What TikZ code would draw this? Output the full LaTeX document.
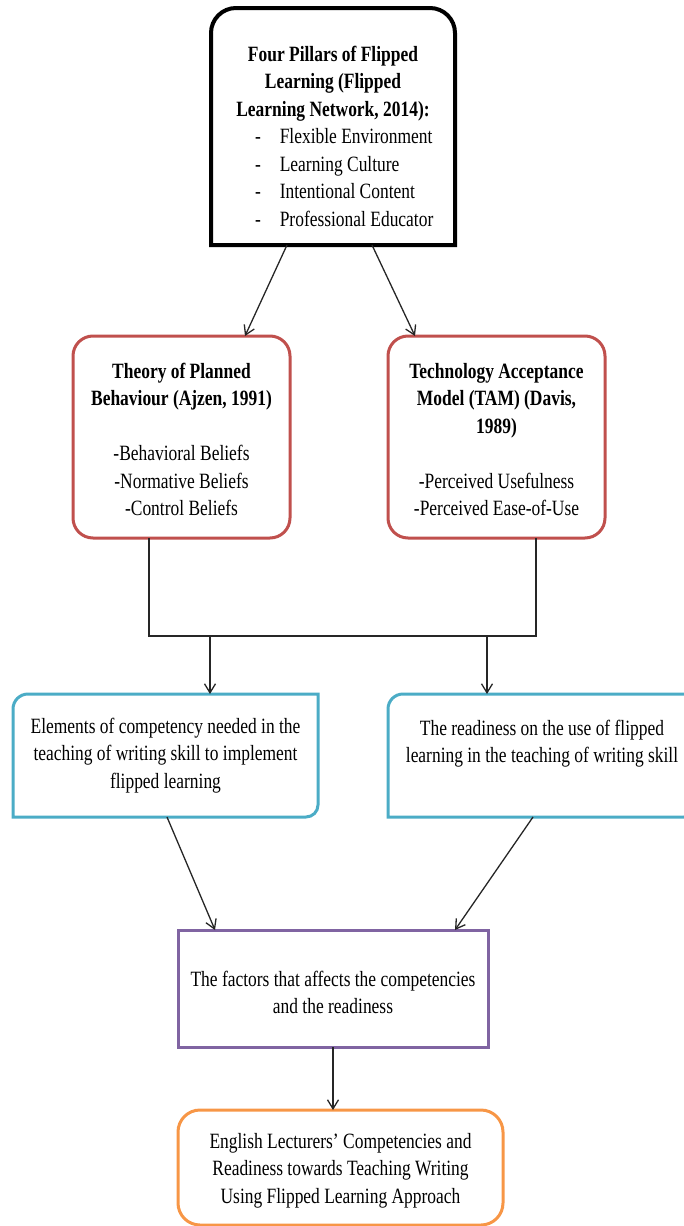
\documentclass[tikz,border=0pt]{standalone}
\usepackage{fontspec}
\setmainfont[FakeStretch=0.8]{Liberation Serif}
\usetikzlibrary{arrows.meta}
\definecolor{tpbRed}{HTML}{C0504D}
\definecolor{elemBlue}{HTML}{4BACC6}
\definecolor{factorPurple}{HTML}{8064A2}
\definecolor{outcomeOrange}{HTML}{F79646}
\begin{document}
\begin{tikzpicture}[x=1pt, y=1pt,
    boxFont/.style={font=\fontsize{21.8pt}{27.5pt}\selectfont, inner sep=0pt, outer sep=0pt},
    redBox/.style={boxFont, draw=tpbRed, line width=3pt, rounded corners=20pt},
    purpleBox/.style={boxFont, draw=factorPurple, line width=3pt},
    orangeBox/.style={boxFont, draw=outcomeOrange, line width=3pt, rounded corners=22pt},
    connLine/.style={line width=1.3pt, draw=black!85},
    flowArrow/.style={connLine, -{Straight Barb[length=9pt,width=11pt]}}]
    \useasboundingbox (0,0) rectangle (684,-1226);
    \newcommand{\boxText}[4]{%
        % text block inside a box
        % args:
        %     width
        %     height
        %     space above first line
        %     text
        \parbox[c][#2pt][t]{#1pt}{\centering\vspace*{#3pt}\strut#4}%
    }
    \newcommand{\pillarItem}[1]{\makebox[200pt][l]{\hspace{22pt}-\hspace{19pt}#1}}
    \newcommand{\roundDiagOutline}[2]{
        % outline with rounded top left and bottom right corners
        % args:
        %     node name
        %     colour
        \draw[#2, line width=3pt] (#1.south west) -- ([yshift=-15pt]#1.north west)
            arc[start angle=180, end angle=90, radius=15pt] -- (#1.north east)
            -- ([yshift=12pt]#1.south east) arc[start angle=0, end angle=-90, radius=12pt] -- cycle;
    }
    %
    % four pillars
    \node[boxFont] (pillars) at (333,-126.5) {\boxText{244}{237}{34}{%
        \textbf{Four Pillars of Flipped\\Learning (Flipped\\Learning Network, 2014):}\\
        \pillarItem{Flexible Environment}\\
        \pillarItem{Learning Culture}\\
        \pillarItem{Intentional Content}\\
        \pillarItem{Professional Educator}}};
    \draw[line width=4pt] (pillars.south west) -- ([yshift=-25pt]pillars.north west)
        arc[start angle=180, end angle=90, radius=25pt] -- ([xshift=-25pt]pillars.north east)
        arc[start angle=90, end angle=0, radius=25pt] -- (pillars.south east) -- cycle;
    % theories
    \node[redBox] (tpb) at (181.5,-437) {\boxText{217}{202}{23}{%
        \textbf{Theory of Planned\\Behaviour (Ajzen, 1991)}\\[27.5pt]
        -Behavioral Beliefs\\-Normative Beliefs\\-Control Beliefs}};
    \node[redBox] (tam) at (496.5,-437) {\boxText{217}{202}{23}{%
        \textbf{Technology Acceptance\\Model (TAM) (Davis,\\1989)}\\[27.5pt]
        -Perceived Usefulness\\-Perceived Ease-of-Use}};
    % competency and readiness
    \node[boxFont] (elem) at (165.5,-755.5) {\boxText{305}{123}{20}{%
        Elements of competency needed in the\\teaching of writing skill to implement\\flipped learning}};
    \roundDiagOutline{elem}{elemBlue}
    \node[boxFont] (ready) at (542,-755.5) {\boxText{308}{123}{22}{%
        The readiness on the use of flipped\\learning in the teaching of writing skill}};
    \roundDiagOutline{ready}{elemBlue}
    % factors and outcome
    \node[purpleBox] (factors) at (333,-988.5) {\boxText{310}{117}{37}{%
        The factors that affects the competencies\\and the readiness}};
    \node[orangeBox] (outcome) at (340.5,-1167.5) {\boxText{325}{115}{19}{%
        English Lecturers’ Competencies and\\Readiness towards Teaching Writing\\Using Flipped Learning Approach}};
    %
    % arrows from the pillars
    \draw[flowArrow] ([xshift=-46pt]pillars.south) -- ([xshift=63.5pt]tpb.north);
    \draw[flowArrow] ([xshift=39pt]pillars.south) -- ([xshift=-81.5pt]tam.north);
    % joining bar
    \coordinate (barL) at (149,-636);
    \coordinate (barR) at (536,-636);
    \coordinate (dropL) at (210,-636);
    \coordinate (dropR) at (487,-636);
    \draw[connLine] ([xshift=-32.5pt]tpb.south) -- (barL) -- (barR) -- ([xshift=39.5pt]tam.south);
    \draw[flowArrow] (dropL) -- (dropL |- elem.north);
    \draw[flowArrow] (dropR) -- (dropR |- ready.north);
    % into the factors, then the outcome
    \draw[flowArrow] ([xshift=1.5pt]elem.south) -- ([xshift=-118pt]factors.north);
    \draw[flowArrow] ([xshift=-9pt]ready.south) -- ([xshift=122pt]factors.north);
    \draw[flowArrow] (factors.south) -- (factors.south |- outcome.north);
\end{tikzpicture}
\end{document}
